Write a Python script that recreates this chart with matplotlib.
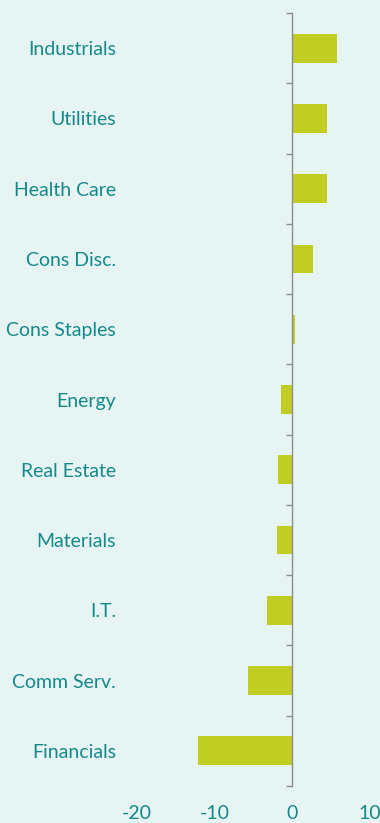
import matplotlib
matplotlib.use("Agg")
import matplotlib.pyplot as plt
import numpy as np

sectors = ["Industrials", "Utilities", "Health Care", "Cons Disc.", "Cons Staples",
           "Energy", "Real Estate", "Materials", "I.T.", "Comm Serv.", "Financials"]
values = [5.7, 4.5, 4.5, 2.6, 0.3, -1.5, -1.9, -2.0, -3.2, -5.7, -12.2]
x_ticks = [-20, -10, 0, 10]

BG = "#e6f4f3"
TEAL = "#14898a"
BAR = "#c2cd23"
AXIS = "#8c8c8c"

plt.rcParams["font.family"] = ["Lato", "DejaVu Sans"]
plt.rcParams["axes.unicode_minus"] = False

fig = plt.figure(figsize=(3.8, 8.23), dpi=100, facecolor=BG)
ax = fig.add_axes([137 / 380, 37 / 823, 233 / 380, 773 / 823])
ax.set_facecolor(BG)

y = np.arange(len(sectors))
ax.barh(y, values, height=0.41, color=BAR, zorder=2)

ax.set_xlim(-20, 10)
ax.set_ylim(len(sectors) - 0.5, -0.5)

# vertical axis at zero with boundary ticks
for s in ["top", "right", "bottom"]:
    ax.spines[s].set_visible(False)
ax.spines["left"].set_position(("data", 0))
ax.spines["left"].set_color(AXIS)
ax.spines["left"].set_linewidth(1.0)
ax.spines["left"].set_zorder(3)

ax.set_yticks(y)
ax.set_yticklabels(sectors)
ax.set_yticks(np.arange(-0.5, len(sectors)), minor=True)
ax.tick_params(axis="y", which="major", length=0, pad=127, labelsize=14,
               labelcolor=TEAL)
ax.tick_params(axis="y", which="minor", length=4.5, width=1.0, color=AXIS,
               direction="out")

ax.set_xticks(x_ticks)
ax.tick_params(axis="x", length=0, pad=14, labelsize=14, labelcolor=TEAL)

fig.savefig("out.png", dpi=100, facecolor=BG)
